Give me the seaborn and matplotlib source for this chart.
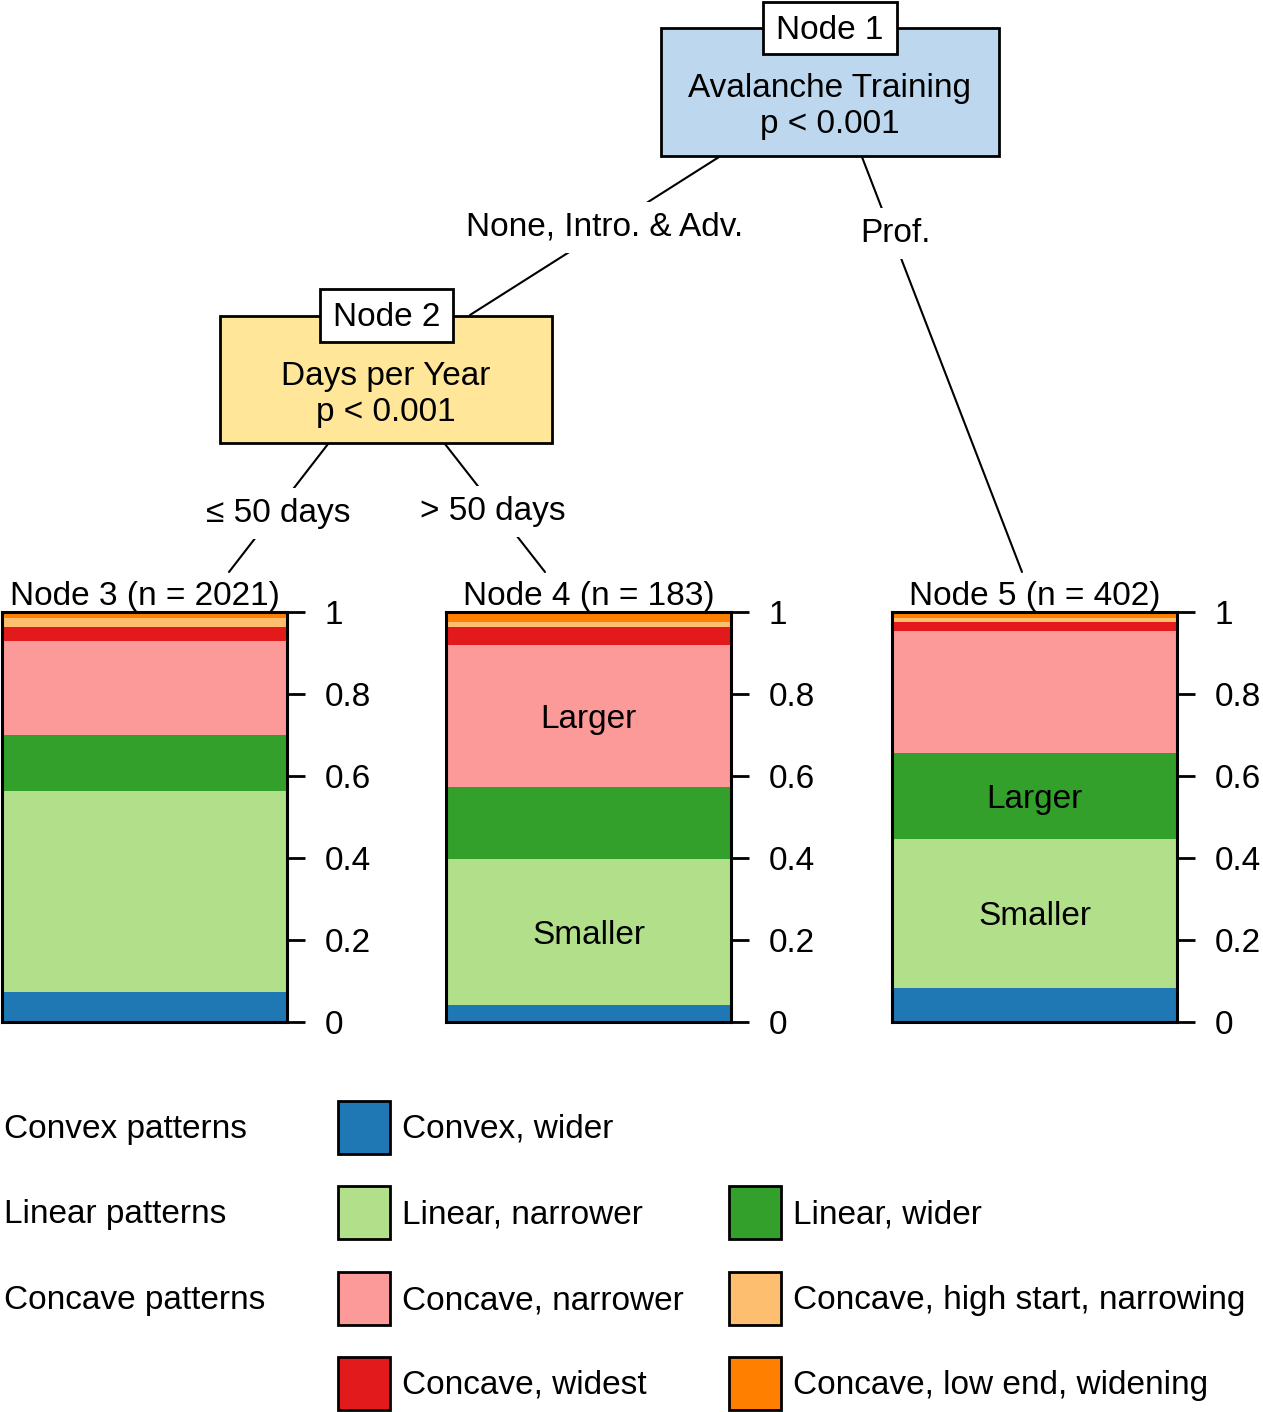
import numpy as np
import pandas as pd
import matplotlib
matplotlib.use("Agg")
import matplotlib.pyplot as plt
from matplotlib.patches import Rectangle
import seaborn as sns

# ---- data -------------------------------------------------------------
# pattern categories, stacked from the bottom of each bar to the top
patterns = ['Convex, wider', 'Linear, narrower', 'Linear, wider', 'Concave, narrower',
            'Concave, widest', 'Concave, high start, narrowing', 'Concave, low end, widening']
pal = sns.color_palette('Paired')
pattern_colors = [pal[1], pal[2], pal[3], pal[4], pal[5], pal[6], pal[7]]

node_names = ['Node 3 (n = 2021)', 'Node 4 (n = 183)', 'Node 5 (n = 402)']
node3_props = [0.073, 0.490, 0.137, 0.230, 0.034, 0.022, 0.014]
node4_props = [0.041, 0.357, 0.176, 0.345, 0.044, 0.012, 0.025]
node5_props = [0.083, 0.364, 0.210, 0.296, 0.022, 0.010, 0.015]

tick_values = [0, 0.2, 0.4, 0.6, 0.8, 1]
tick_labels = ['0', '0.2', '0.4', '0.6', '0.8', '1']

# text written inside the bars: (node index, pattern, text)
bar_notes = [(1, 'Concave, narrower', 'Larger'), (1, 'Linear, narrower', 'Smaller'),
             (2, 'Linear, wider', 'Larger'), (2, 'Linear, narrower', 'Smaller')]

# inner nodes of the tree
inner_ids = ['Node 1', 'Node 2']
inner_vars = ['Avalanche Training', 'Days per Year']
inner_pvals = ['p < 0.001', 'p < 0.001']
edge_labels = ['None, Intro. & Adv.', 'Prof.', '\u2264 50 days', '> 50 days']

legend_groups = ['Convex patterns', 'Linear patterns', 'Concave patterns', '']
legend_items = [['Convex, wider'],
                ['Linear, narrower', 'Linear, wider'],
                ['Concave, narrower', 'Concave, high start, narrowing'],
                ['Concave, widest', 'Concave, low end, widening']]

df = pd.DataFrame({
    'node': np.repeat(node_names, len(patterns)),
    'pattern': patterns * len(node_names),
    'prop': node3_props + node4_props + node5_props,
})
df['top'] = df.groupby('node')['prop'].cumsum()

# ---- figure -----------------------------------------------------------
sns.set_style('white')
plt.rcParams['font.family'] = ['Liberation Sans', 'DejaVu Sans']
plt.rcParams['text.color'] = 'black'
plt.rcParams['ytick.labelcolor'] = 'black'
FS = 24
W, H = 1263, 1412
fig = plt.figure(figsize=(W / 100, H / 100), dpi=100)

# pixel-coordinate layer for the tree and the legend
tree = fig.add_axes([0, 0, 1, 1])
tree.set_xlim(0, W)
tree.set_ylim(H, 0)
tree.axis('off')

# edges (drawn first, labels with white background break them)
tree.plot([719, 470], [157, 315], color='black', lw=1.5, zorder=1)
tree.plot([862, 1022], [157, 572], color='black', lw=1.5, zorder=1)
tree.plot([328, 229], [444, 572], color='black', lw=1.5, zorder=1)
tree.plot([445, 545], [444, 572], color='black', lw=1.5, zorder=1)
lab_kw = dict(ha='center', va='baseline', fontsize=FS, zorder=3,
              bbox=dict(boxstyle='square,pad=0.3', fc='white', ec='none'))
tree.text(605, 236, edge_labels[0], **lab_kw)
tree.text(895, 242, edge_labels[1], **lab_kw)
tree.text(278, 522, edge_labels[2], **lab_kw)
tree.text(493, 520, edge_labels[3], **lab_kw)

# inner node boxes
boxes = [(661, 28, 338, 128, '#BDD7EE', 763, 2, 134, 52),
         (220, 316, 332, 127, '#FFE699', 320, 289, 133, 53)]
for (bx, by, bw, bh, fc, lx, ly, lw_, lh), nid, var, pv in zip(boxes, inner_ids, inner_vars, inner_pvals):
    tree.add_patch(Rectangle((bx, by), bw, bh, fc=fc, ec='black', lw=2, zorder=4))
    tree.add_patch(Rectangle((lx, ly), lw_, lh, fc='white', ec='black', lw=2, zorder=5))
    cx = bx + bw / 2
    tree.text(lx + lw_ / 2, ly + 37, nid, ha='center', va='baseline', fontsize=FS, zorder=6)
    tree.text(cx, by + 69, var, ha='center', va='baseline', fontsize=FS, zorder=6)
    tree.text(cx, by + 105, pv, ha='center', va='baseline', fontsize=FS, zorder=6)

# terminal node bar charts
bar_left = [2, 446, 892]
bar_w, bar_top, bar_bot = 285, 612, 1022
for i, name in enumerate(node_names):
    ax = fig.add_axes([bar_left[i] / W, (H - bar_bot) / H, bar_w / W, (bar_bot - bar_top) / H])
    ax.set_facecolor('none')
    sub = df[df['node'] == name]
    # overdraw cumulative heights from the top segment downwards
    for pat, col in reversed(list(zip(patterns, pattern_colors))):
        sns.barplot(data=sub[sub['pattern'] == pat], x='node', y='top', color=col,
                    width=1, errorbar=None, linewidth=0, saturation=1, ax=ax)
    ax.set_xlim(-0.5, 0.5)
    ax.set_ylim(0, 1)
    ax.set_xticks([])
    ax.set_xlabel('')
    ax.set_ylabel('')
    ax.yaxis.tick_right()
    ax.set_yticks(tick_values, tick_labels)
    ax.tick_params(axis='y', direction='out', length=13, width=2, pad=14,
                   labelsize=FS, right=True, left=False, colors='black')
    for sp in ax.spines.values():
        sp.set_visible(True)
        sp.set_color('black')
        sp.set_linewidth(2.2)
    tree.text(bar_left[i] + bar_w / 2, 605, name, ha='center', va='baseline', fontsize=FS)
    for j, pat, txt in bar_notes:
        if j == i:
            r = sub[sub['pattern'] == pat].iloc[0]
            ax.text(0, r['top'] - r['prop'] / 2, txt, ha='center', va='center_baseline', fontsize=FS)

# legend
row_y = [1127, 1212, 1298, 1383]
patch_x = [338, 729]
color_of = dict(zip(patterns, pattern_colors))
for cy, grp, items in zip(row_y, legend_groups, legend_items):
    tree.text(4, cy + 11, grp, ha='left', va='baseline', fontsize=FS)
    for px, item in zip(patch_x, items):
        tree.add_patch(Rectangle((px, cy - 26), 52, 53, fc=color_of[item], ec='black', lw=2))
        tree.text(px + 64, cy + 11, item, ha='left', va='baseline', fontsize=FS)

fig.savefig('out.png', dpi=100)
